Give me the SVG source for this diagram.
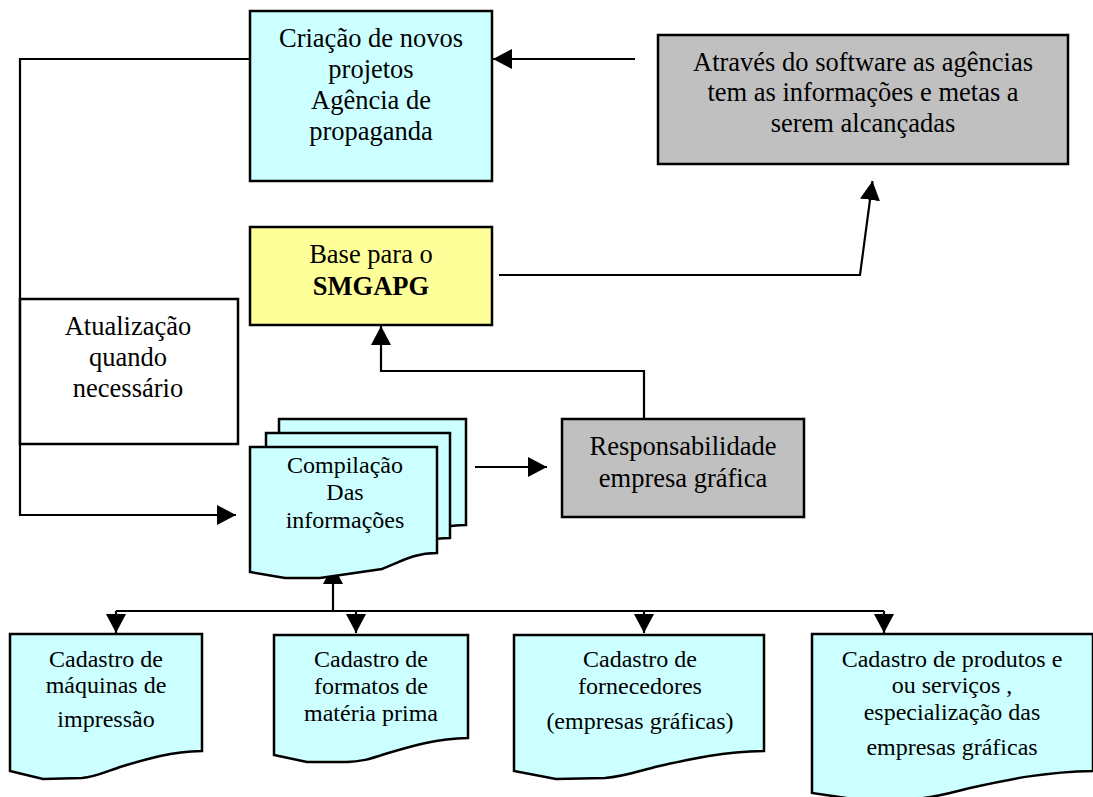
<svg xmlns="http://www.w3.org/2000/svg" width="1093" height="797" viewBox="0 0 1093 797">
<style>
.box{stroke:#000;stroke-width:2.5}
.cyan{fill:#CCFFFF}
.yellow{fill:#FFFF99}
.gray{fill:#C0C0C0}
.white{fill:#FFFFFF}
.t{font-family:"Liberation Serif","Times New Roman",serif;font-size:26.5px;fill:#000;text-anchor:middle}
.s{font-size:24px}
.b{font-weight:bold}
.c{fill:none;stroke:#000;stroke-width:2.2}
</style>
<defs>
<marker id="arr" markerUnits="userSpaceOnUse" markerWidth="20" markerHeight="22" refX="19" refY="10" orient="auto" viewBox="0 0 20 20">
<path d="M0,0 L19,10 L0,20 Z" fill="#000"/>
</marker>
</defs>
<rect width="1093" height="797" fill="#FFFFFF"/>

<g id="connectors">
<path class="c" d="M635,59 H493" marker-end="url(#arr)"/>
<path class="c" d="M250,59 H20 V515 H236" marker-end="url(#arr)"/>
<path class="c" d="M499,275 H860 L872.5,181" marker-end="url(#arr)"/>
<path class="c" d="M644,419 V371 H381 V326" marker-end="url(#arr)"/>
<path class="c" d="M475,467 H547" marker-end="url(#arr)"/>
<path class="c" d="M333,611 V565" marker-end="url(#arr)"/>
<path class="c" d="M116,611 H884"/>
<path class="c" d="M116,611 V633" marker-end="url(#arr)"/>
<path class="c" d="M356,611 V633" marker-end="url(#arr)"/>
<path class="c" d="M644,611 V633" marker-end="url(#arr)"/>
<path class="c" d="M884,611 V633" marker-end="url(#arr)"/>
</g>

<g id="criacao">
<rect class="box cyan" x="250" y="11" width="242" height="170"/>
<text class="t" x="371" y="47">Criação de novos</text>
<text class="t" x="371" y="78">projetos</text>
<text class="t" x="371" y="109">Agência de</text>
<text class="t" x="371" y="140">propaganda</text>
</g>

<g id="atraves">
<rect class="box gray" x="658" y="35" width="410" height="129"/>
<text class="t" x="863" y="71">Através do software as agências</text>
<text class="t" x="863" y="101">tem as informações e metas a</text>
<text class="t" x="863" y="132">serem alcançadas</text>
</g>

<g id="base">
<rect class="box yellow" x="250" y="227" width="242" height="98"/>
<text class="t" x="371" y="263">Base para o</text>
<text class="t b" x="371" y="295">SMGAPG</text>
</g>

<g id="atualizacao">
<rect class="box white" x="20" y="299" width="218" height="145"/>
<text class="t" x="128" y="335">Atualização</text>
<text class="t" x="128" y="366">quando</text>
<text class="t" x="128" y="397">necessário</text>
</g>

<g id="responsabilidade">
<rect class="box gray" x="562" y="419" width="242" height="98"/>
<text class="t" x="683" y="455">Responsabilidade</text>
<text class="t" x="683" y="487">empresa gráfica</text>
</g>

<g id="compilacao">
<path class="box cyan" d="M279,419 H466 V525 C441,525 430,532 413,538 L398,545 L311,545 L279,539 Z"/>
<path class="box cyan" d="M266,433 H450 V538 C426,538 414,546 397,553 L382,559 L296,559 L266,553 Z"/>
<path class="box cyan" d="M250,447 H437 V553 C412,553 399,563 382,569 L320,578 L285,578 L250,572 Z"/>
<text class="t s" x="345" y="473">Compilação</text>
<text class="t s" x="345" y="500">Das</text>
<text class="t s" x="345" y="528">informações</text>
</g>

<g id="maquinas">
<path class="box cyan" d="M10,634 H202 V751 C170,752 150,758 120,767 C105,772 95,777 82,778 L43,779 L10,771 Z"/>
<text class="t s" x="106" y="667">Cadastro de</text>
<text class="t s" x="106" y="693">máquinas de</text>
<text class="t s" x="106" y="727">impressão</text>
</g>

<g id="formatos">
<path class="box cyan" d="M274,635 H468 V738 C436,739 415,745 385,754 C370,759 360,762 346,762 L307,762 L274,755 Z"/>
<text class="t s" x="371" y="667">Cadastro de</text>
<text class="t s" x="371" y="694">formatos de</text>
<text class="t s" x="371" y="721">matéria prima</text>
</g>

<g id="fornecedores">
<path class="box cyan" d="M514,635 H764 V751 C722,752 695,758 655,767 C636,772 622,777 605,778 L556,779 L514,771 Z"/>
<text class="t s" x="640" y="667">Cadastro de</text>
<text class="t s" x="640" y="694">fornecedores</text>
<text class="t s" x="640" y="729">(empresas gráficas)</text>
</g>

<g id="produtos">
<path class="box cyan" d="M812,634 H1093 V771 C1046,772 1015,778 970,788 C950,793 934,798 914,799 L860,800 L812,793 Z"/>
<text class="t s" x="952" y="667">Cadastro de produtos e</text>
<text class="t s" x="952" y="693">ou serviços ,</text>
<text class="t s" x="952" y="720">especialização das</text>
<text class="t s" x="952" y="755">empresas gráficas</text>
</g>
</svg>
